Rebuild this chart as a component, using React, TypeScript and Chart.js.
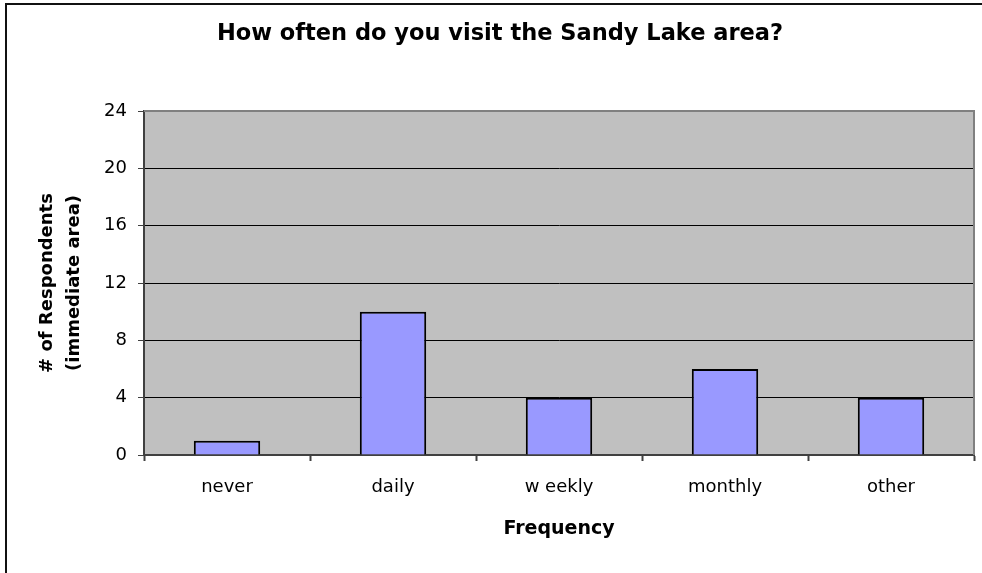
import React, { useEffect, useRef } from "react";
import { Chart, registerables } from "chart.js";

Chart.register(...registerables);

const chartTitle = "How often do you visit the Sandy Lake area?";
const categories = ["never", "daily", "w eekly", "monthly", "other"];
const respondents = [1, 10, 4, 6, 4];
const yTitleLines = ["# of Respondents", "(immediate area)"];
const xTitle = "Frequency";
const yMin = 0;
const yMax = 24;
const yStep = 4;

const FONT = "'DejaVu Sans', 'Liberation Sans', Arial, sans-serif";

const decorPlugin = {
  id: "decor",
  beforeDraw(chart: any) {
    const { ctx, chartArea, width, height } = chart;
    ctx.save();
    ctx.fillStyle = "#ffffff";
    ctx.fillRect(0, 0, width, height);
    ctx.fillStyle = "#C0C0C0";
    ctx.fillRect(chartArea.left, chartArea.top, chartArea.right - chartArea.left, chartArea.bottom - chartArea.top);
    // outer frame
    ctx.strokeStyle = "#111111";
    ctx.lineWidth = 2;
    ctx.strokeRect(6, 4, width + 100, height + 100);
    ctx.restore();
  },
  afterDatasetsDraw(chart: any) {
    const { ctx, chartArea } = chart;
    ctx.save();
    ctx.strokeStyle = "#808080";
    ctx.lineWidth = 2;
    ctx.beginPath();
    ctx.moveTo(chartArea.left, chartArea.top);
    ctx.lineTo(chartArea.right, chartArea.top);
    ctx.lineTo(chartArea.right, chartArea.bottom);
    ctx.stroke();
    ctx.restore();
  },
};

export default function App() {
  const canvasRef = useRef<HTMLCanvasElement | null>(null);

  useEffect(() => {
    if (!canvasRef.current) return;
    const chart = new Chart(canvasRef.current, {
      type: "bar",
      data: {
        labels: categories,
        datasets: [
          {
            data: respondents,
            backgroundColor: "#9999FF",
            borderColor: "#000000",
            borderWidth: 2,
            barPercentage: 0.4,
            categoryPercentage: 1,
          },
        ],
      },
      options: {
        responsive: false,
        animation: false,
        layout: { padding: { left: 26, right: 8, top: 0, bottom: 0 } },
        plugins: {
          legend: { display: false },
          tooltip: { enabled: false },
          title: {
            display: true,
            text: chartTitle,
            color: "#000000",
            font: { family: FONT, size: 22.5, weight: "bold", lineHeight: 1.2 },
            padding: { top: 20.5, bottom: 63.5 },
          },
        },
        scales: {
          x: {
            grid: {
              offset: true,
              drawOnChartArea: false,
              drawTicks: true,
              tickLength: 6,
              tickColor: "#404040",
              tickWidth: 2,
            },
            border: { display: true, color: "#404040", width: 2 },
            ticks: {
              color: "#000000",
              font: { family: FONT, size: 18 },
              padding: 16,
              maxRotation: 0,
            },
            title: {
              display: true,
              text: xTitle,
              color: "#000000",
              font: { family: FONT, size: 19, weight: "bold", lineHeight: 1.2 },
              padding: { top: 0, bottom: 33 },
            },
            afterFit(scale: any) {
              scale.height = 118;
            },
          },
          y: {
            min: yMin,
            max: yMax,
            grid: {
              color: "#000000",
              lineWidth: 1,
              drawTicks: true,
              tickLength: 6,
              tickColor: "#404040",
              tickWidth: 1,
            },
            border: { display: true, color: "#404040", width: 2 },
            ticks: {
              stepSize: yStep,
              color: "#000000",
              font: { family: FONT, size: 18 },
              padding: 11,
            },
            title: {
              display: true,
              text: yTitleLines,
              color: "#000000",
              font: { family: FONT, size: 18, weight: "bold", lineHeight: 1.5 },
              padding: { top: 7.5, bottom: 0 },
            },
            afterFit(scale: any) {
              scale.width = 118;
            },
          },
        },
      },
      plugins: [decorPlugin],
    } as any);
    return () => chart.destroy();
  }, []);

  return (
    <div style={{ position: "absolute", left: 0, top: 0, width: 982, height: 573 }}>
      <canvas ref={canvasRef} width={982} height={573} style={{ display: "block" }} />
    </div>
  );
}
